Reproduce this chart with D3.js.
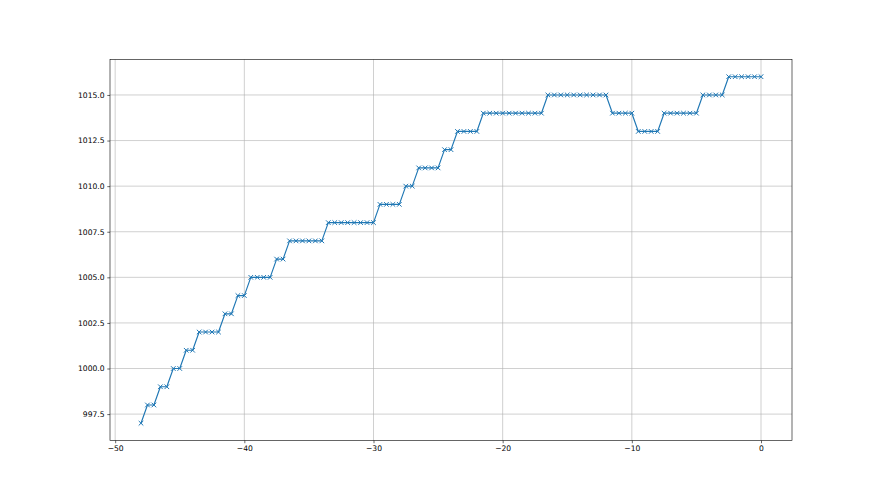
<!DOCTYPE html>
<html>
<head>
<meta charset="utf-8">
<script src="https://cdn.jsdelivr.net/npm/d3@7"></script>
<style>
  html, body { margin: 0; padding: 0; background: #fff; }
  svg { display: block; }
  text { font-family: "DejaVu Sans", sans-serif; }
</style>
</head>
<body>
<script>
// Data: x from -48 to 0 in 0.5 steps (explicit), pressure values
const xValues = [
  -48, -47.5, -47, -46.5, -46, -45.5, -45, -44.5, -44, -43.5,
  -43, -42.5, -42, -41.5, -41, -40.5, -40, -39.5, -39, -38.5,
  -38, -37.5, -37, -36.5, -36, -35.5, -35, -34.5, -34, -33.5,
  -33, -32.5, -32, -31.5, -31, -30.5, -30, -29.5, -29, -28.5,
  -28, -27.5, -27, -26.5, -26, -25.5, -25, -24.5, -24, -23.5,
  -23, -22.5, -22, -21.5, -21, -20.5, -20, -19.5, -19, -18.5,
  -18, -17.5, -17, -16.5, -16, -15.5, -15, -14.5, -14, -13.5,
  -13, -12.5, -12, -11.5, -11, -10.5, -10, -9.5, -9, -8.5,
  -8, -7.5, -7, -6.5, -6, -5.5, -5, -4.5, -4, -3.5,
  -3, -2.5, -2, -1.5, -1, -0.5, 0
];
const yValues = [
  997, 998, 998, 999, 999, 1000, 1000, 1001, 1001, 1002,
  1002, 1002, 1002, 1003, 1003, 1004, 1004, 1005, 1005, 1005,
  1005, 1006, 1006, 1007, 1007, 1007, 1007, 1007, 1007, 1008,
  1008, 1008, 1008, 1008, 1008, 1008, 1008, 1009, 1009, 1009,
  1009, 1010, 1010, 1011, 1011, 1011, 1011, 1012, 1012, 1013,
  1013, 1013, 1013, 1014, 1014, 1014, 1014, 1014, 1014, 1014,
  1014, 1014, 1014, 1015, 1015, 1015, 1015, 1015, 1015, 1015,
  1015, 1015, 1015, 1014, 1014, 1014, 1014, 1013, 1013, 1013,
  1013, 1014, 1014, 1014, 1014, 1014, 1014, 1015, 1015, 1015,
  1015, 1016, 1016, 1016, 1016, 1016, 1016
];
const xTicks = [-50, -40, -30, -20, -10, 0];
const yTicks = [997.5, 1000.0, 1002.5, 1005.0, 1007.5, 1010.0, 1012.5, 1015.0];

const W = 880, H = 495;
const pL = 110, pR = 792, pT = 59.4, pB = 440.55;
const color = "#1f77b4";

const svg = d3.select("body").append("svg").attr("width", W).attr("height", H);

const xmin = d3.min(xValues), xmax = d3.max(xValues);
const ymin = d3.min(yValues), ymax = d3.max(yValues);
const xpad = (xmax - xmin) * 0.05, ypad = (ymax - ymin) * 0.05;
const x = d3.scaleLinear().domain([xmin - xpad, xmax + xpad]).range([pL, pR]);
const y = d3.scaleLinear().domain([ymin - ypad, ymax + ypad]).range([pB, pT]);

// grid
const grid = svg.append("g");
grid.selectAll("line.gx").data(xTicks).enter().append("line")
  .attr("x1", d => x(d)).attr("x2", d => x(d)).attr("y1", pT).attr("y2", pB)
  .attr("stroke", "#b0b0b0").attr("stroke-width", 0.6);
grid.selectAll("line.gy").data(yTicks).enter().append("line")
  .attr("y1", d => y(d)).attr("y2", d => y(d)).attr("x1", pL).attr("x2", pR)
  .attr("stroke", "#b0b0b0").attr("stroke-width", 0.6);

// line
const pts = xValues.map((v, i) => [v, yValues[i]]);
svg.append("path").datum(pts)
  .attr("fill", "none").attr("stroke", color).attr("stroke-width", 1.15)
  .attr("stroke-linejoin", "round").attr("stroke-linecap", "square")
  .attr("d", d3.line().x(d => x(d[0])).y(d => y(d[1])));

// markers (x)
const ms = 2.3;
const mk = svg.append("g");
mk.selectAll("path").data(pts).enter().append("path")
  .attr("transform", d => `translate(${x(d[0])},${y(d[1])})`)
  .attr("d", `M${-ms},${-ms}L${ms},${ms}M${-ms},${ms}L${ms},${-ms}`)
  .attr("stroke", color).attr("stroke-width", 1.0).attr("fill", "none");

// axes
const fmtX = d => d3.format("d")(d).replace("-", "\u2212");
const xAxis = d3.axisBottom(x).tickValues(xTicks).tickFormat(fmtX).tickSize(2.7).tickPadding(2.7);
const yAxis = d3.axisLeft(y).tickValues(yTicks).tickFormat(d3.format(".1f")).tickSize(2.7).tickPadding(2.7);

const gx = svg.append("g").attr("transform", `translate(0,${pB})`).call(xAxis);
const gy = svg.append("g").attr("transform", `translate(${pL},0)`).call(yAxis);
[gx, gy].forEach(g => {
  g.select(".domain").remove();
  g.selectAll(".tick line").attr("stroke", "#000").attr("stroke-width", 0.6);
  g.selectAll(".tick text").attr("fill", "#000").style("font-size", "7.6px")
    .style("font-family", "'DejaVu Sans', sans-serif");
});

// frame
svg.append("rect").attr("x", pL).attr("y", pT)
  .attr("width", pR - pL).attr("height", pB - pT)
  .attr("fill", "none").attr("stroke", "#000").attr("stroke-width", 0.6);
</script>
</body>
</html>
